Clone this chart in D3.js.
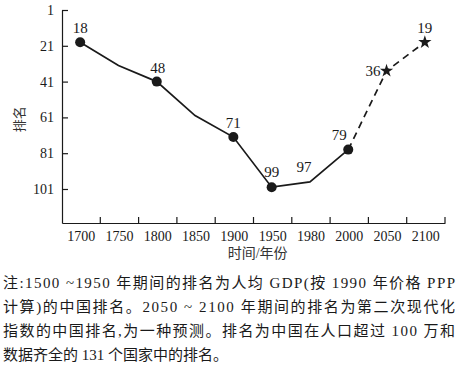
<!DOCTYPE html>
<html>
<head>
<meta charset="utf-8">
<script src="https://cdn.jsdelivr.net/npm/d3@7"></script>
<style>
  body { margin: 0; background: #fff; }
  svg { display: block; }
</style>
</head>
<body>
<svg id="chart" width="462" height="380"></svg>
<script>
const years = ["1700", "1750", "1800", "1850", "1900", "1950", "1980", "2000", "2050", "2100"];
// plotted rank (as drawn) and the rank printed next to the marker
const ranks = [19, 32, 41, 60, 72, 100, 97, 79, 35, 19];
const rankLabels = ["18", "", "48", "", "71", "99", "97", "79", "36", "19"];
const markers = ["dot", "", "dot", "", "dot", "dot", "", "dot", "star", "star"];
const yTicks = [1, 21, 41, 61, 81, 101];
const noteLines = [
    "注:1500 ~1950 年期间的排名为人均 GDP(按 1990 年价格 PPP",
    "计算)的中国排名。2050 ~ 2100 年期间的排名为第二次现代化",
    "指数的中国排名,为一种预测。排名为中国在人口超过 100 万和",
    "数据齐全的 131 个国家中的排名。"
];

const font = "'Liberation Serif', 'Noto Sans CJK SC', serif";
const ink = "#1a1a1a";
const margin = { top: 10, left: 62, right: 17, bottom: 157 };
const width = 462, height = 380;

const svg = d3.select("#chart");

const x = d3.scaleBand()
    .domain(years)
    .range([margin.left, width - margin.right])
    .padding(0);

const y = d3.scaleLinear()
    .domain([1, 120])
    .range([margin.top, height - margin.bottom]);

const cx = d => x(d) + x.bandwidth() / 2 - 1;

// y axis, ticks pointing into the plot
const yAxis = svg.append("g")
    .attr("transform", `translate(${margin.left},0)`)
    .call(d3.axisLeft(y).tickValues(yTicks).tickSize(-6).tickSizeOuter(0).tickPadding(8));
yAxis.selectAll("text").style("font-family", font).style("font-size", "14px").attr("fill", ink);
yAxis.selectAll("line, path").attr("stroke", ink).attr("stroke-width", 1.2);

// x axis: labels in the middle of each band, ticks on the band edges
const xAxis = svg.append("g")
    .attr("transform", `translate(0,${y(120)})`)
    .call(d3.axisBottom(x).tickSize(0).tickPadding(8));
xAxis.select("path").attr("stroke", ink).attr("stroke-width", 1.2);
xAxis.selectAll("text").style("font-family", font).style("font-size", "14px").attr("fill", ink);

svg.append("g")
    .selectAll("line")
    .data(years)
    .join("line")
    .attr("x1", d => x(d) + x.bandwidth())
    .attr("x2", d => x(d) + x.bandwidth())
    .attr("y1", y(120))
    .attr("y2", y(120) - 6)
    .attr("stroke", ink)
    .attr("stroke-width", 1.2);

const pts = years.map((d, i) => ({ year: d, rank: ranks[i], label: rankLabels[i], marker: markers[i] }));

const line = d3.line().x(d => cx(d.year)).y(d => y(d.rank));

// observed part solid, forecast part dashed
svg.append("path")
    .datum(pts.slice(0, 8))
    .attr("d", line)
    .attr("fill", "none")
    .attr("stroke", ink)
    .attr("stroke-width", 1.7);

svg.append("path")
    .datum(pts.slice(7))
    .attr("d", line)
    .attr("fill", "none")
    .attr("stroke", ink)
    .attr("stroke-width", 1.7)
    .attr("stroke-dasharray", "7,5");

svg.append("g")
    .selectAll("circle")
    .data(pts.filter(d => d.marker === "dot"))
    .join("circle")
    .attr("cx", d => cx(d.year))
    .attr("cy", d => y(d.rank))
    .attr("r", 5)
    .attr("fill", ink);

svg.append("g")
    .selectAll("path")
    .data(pts.filter(d => d.marker === "star"))
    .join("path")
    .attr("transform", d => `translate(${cx(d.year)},${y(d.rank)})`)
    .attr("d", d3.symbol(d3.symbolStar, 55))
    .attr("fill", ink);

// label offsets relative to the point
const labelPos = {
    "1700": [0, -9, "middle"],
    "1800": [1, -9, "middle"],
    "1900": [0, -9, "middle"],
    "1950": [0, -10, "middle"],
    "1980": [-6, -10, "middle"],
    "2000": [-9, -10, "middle"],
    "2050": [-6, 5, "end"],
    "2100": [0, -9, "middle"]
};

svg.append("g")
    .selectAll("text")
    .data(pts.filter(d => d.label))
    .join("text")
    .attr("x", d => cx(d.year) + labelPos[d.year][0])
    .attr("y", d => y(d.rank) + labelPos[d.year][1])
    .attr("text-anchor", d => labelPos[d.year][2])
    .style("font-family", font)
    .style("font-size", "15px")
    .attr("fill", ink)
    .text(d => d.label);

svg.append("text")
    .attr("transform", `translate(24,${y(62)}) rotate(-90)`)
    .attr("text-anchor", "middle")
    .style("font-family", font)
    .style("font-size", "13px")
    .attr("fill", "#333")
    .text("排名");

svg.append("text")
    .attr("x", x("1950") + x.bandwidth() / 2 - 15)
    .attr("y", 258)
    .attr("text-anchor", "middle")
    .style("font-family", font)
    .style("font-size", "14px")
    .attr("fill", "#333")
    .text("时间/年份");

// note under the chart, justified like the printed page
svg.append("g")
    .selectAll("text")
    .data(noteLines)
    .join("text")
    .attr("x", 3)
    .attr("y", (d, i) => 288 + i * 24)
    .style("font-family", font)
    .style("font-size", "15px")
    .attr("fill", ink)
    .attr("textLength", (d, i) => i < noteLines.length - 1 ? 452 : null)
    .attr("lengthAdjust", "spacing")
    .text(d => d);
</script>
</body>
</html>
